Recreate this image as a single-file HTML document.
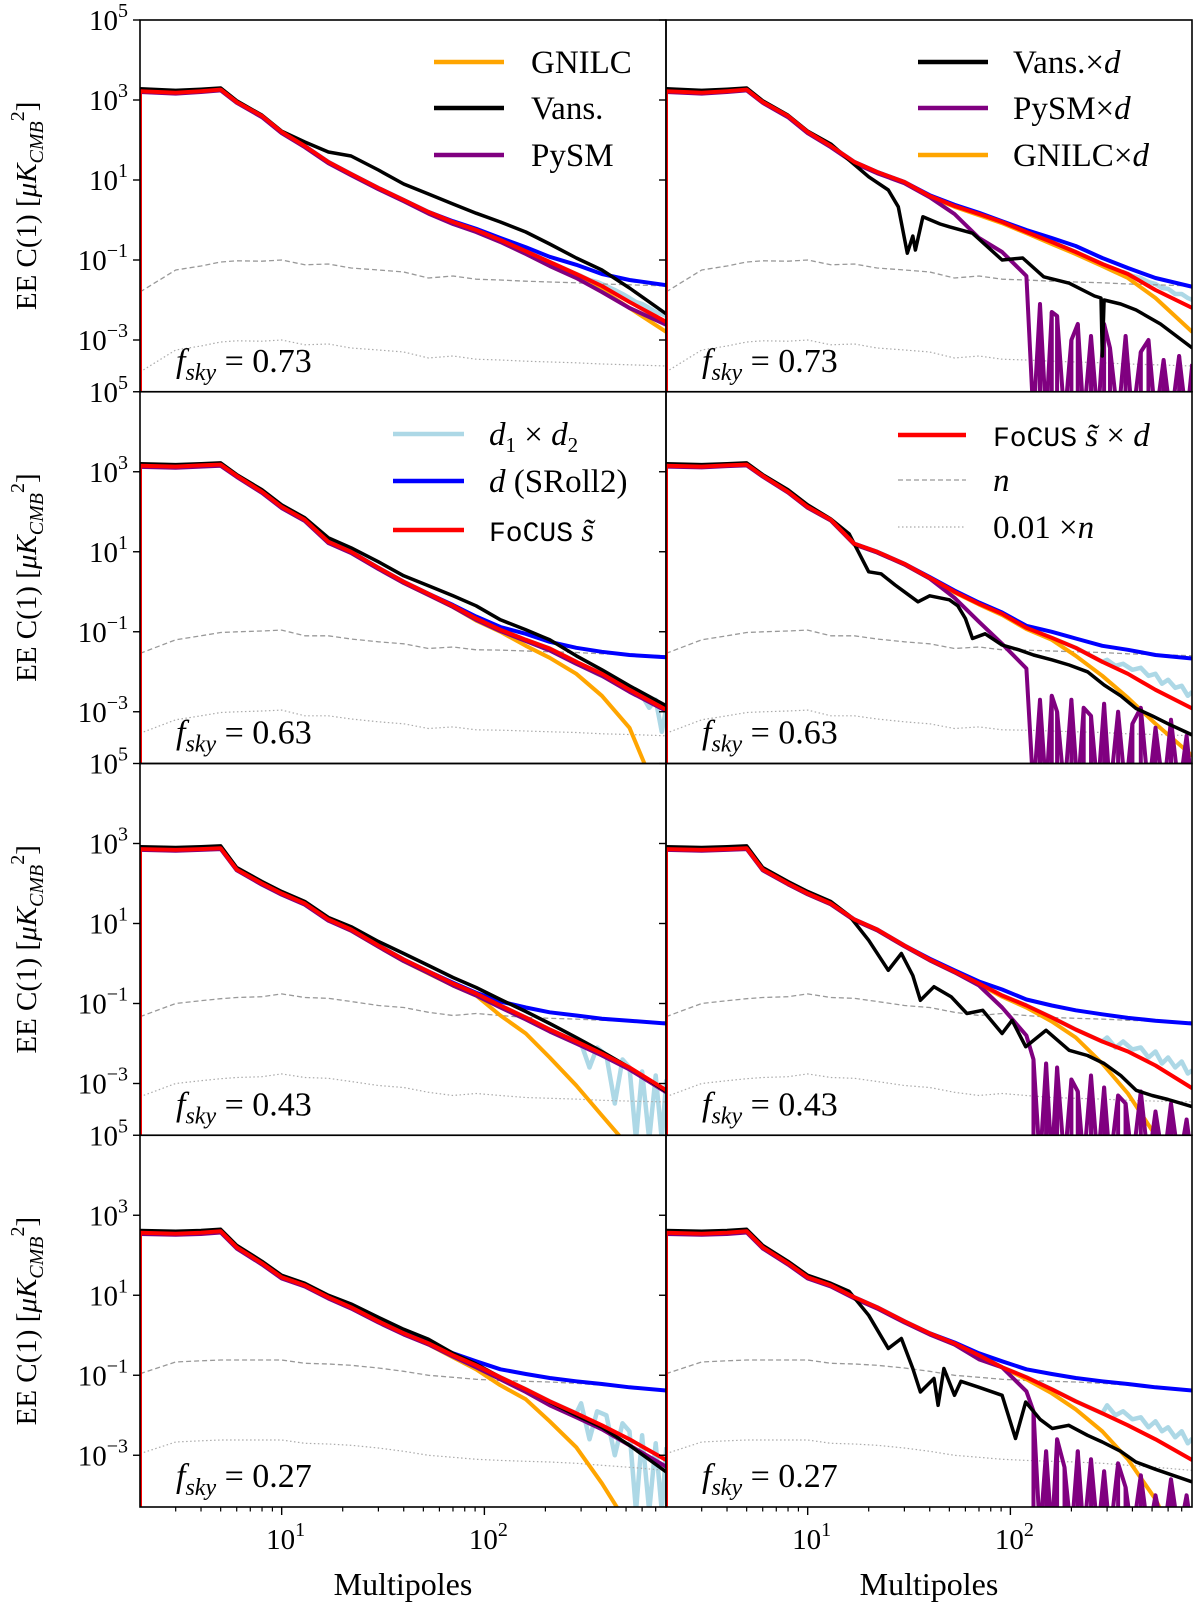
<!DOCTYPE html>
<html><head><meta charset="utf-8">
<style>
html,body{margin:0;padding:0;background:#fff;}
svg{display:block;font-family:"Liberation Serif","DejaVu Serif",serif;}
</style></head>
<body>
<svg id="fig" width="1200" height="1602" viewBox="0 0 1200 1602" xmlns="http://www.w3.org/2000/svg"></svg>
<script>
// ---------- data (log10 of C_l) ----------
const L = [2,3,4,5,6,8,10,13,17,22,30,40,53,70,91,120,160,210,284,380,520,790];
const LB = [300,330,360,400,440,480,520,560,600,650,700,750,790];
const SPL = [130,140,150,160,170,185,200,215,230,250,270,290,310,340,370,400,440,480,520,570,620,680,740,790];
const yTickVals = [5,3,1,-1,-3];
const yTickLabels = ["5","3","1","\u22121","\u22123"];
const xMajor = [10,100];
const xMajorLabels = ["1","2"];
const xMinor = [3,4,5,6,7,8,9,20,30,40,50,60,70,80,90,200,300,400,500,600,700];
const fskyLabels = ["0.73","0.63","0.43","0.27"];

// row 1
const p1l_focus = [3.22,3.18,3.22,3.26,2.95,2.6,2.2,1.85,1.45,1.15,0.8,0.5,0.2,-0.05,-0.25,-0.5,-0.78,-1.05,-1.35,-1.65,-2.05,-2.55];
const p1l_vans = [3.28,3.24,3.27,3.3,2.98,2.62,2.22,1.95,1.7,1.6,1.25,0.9,0.65,0.4,0.17,-0.05,-0.3,-0.6,-0.95,-1.25,-1.7,-2.35];
const p1l_pysm = [3.2,3.16,3.2,3.24,2.93,2.57,2.17,1.82,1.42,1.12,0.77,0.47,0.16,-0.1,-0.3,-0.55,-0.85,-1.15,-1.45,-1.8,-2.2,-2.62];
const p1l_gnilc = [3.21,3.17,3.21,3.25,2.94,2.58,2.18,1.83,1.43,1.13,0.78,0.48,0.18,-0.07,-0.27,-0.52,-0.8,-1.1,-1.4,-1.75,-2.2,-2.8];
const p1l_d = [3.22,3.18,3.22,3.26,2.95,2.6,2.2,1.85,1.45,1.15,0.8,0.5,0.2,-0.03,-0.22,-0.45,-0.68,-0.92,-1.12,-1.35,-1.5,-1.63];
const p1_n = [-1.8,-1.25,-1.15,-1.05,-1.02,-1.03,-1.0,-1.12,-1.1,-1.2,-1.25,-1.3,-1.45,-1.4,-1.48,-1.5,-1.53,-1.55,-1.57,-1.6,-1.62,-1.65];
const p1_n01 = [-3.8,-3.25,-3.15,-3.05,-3.02,-3.03,-3.0,-3.12,-3.1,-3.2,-3.25,-3.3,-3.45,-3.4,-3.48,-3.5,-3.53,-3.55,-3.57,-3.6,-3.62,-3.65];
const p1l_d1d2 = [-1.4,-1.5,-1.55,-1.65,-1.75,-1.85,-1.95,-2.05,-2.1,-2.2,-2.3,-2.35,-2.4];
const p1r_focus = [3.22,3.18,3.22,3.26,2.95,2.6,2.2,1.85,1.45,1.2,0.95,0.6,0.35,0.15,-0.05,-0.3,-0.55,-0.8,-1.1,-1.35,-1.75,-2.2];
const p1r_d = [3.22,3.18,3.22,3.26,2.95,2.6,2.2,1.85,1.45,1.2,0.95,0.62,0.38,0.18,-0.03,-0.25,-0.45,-0.65,-0.95,-1.2,-1.45,-1.67];
const p1r_gnilc = [3.21,3.17,3.21,3.25,2.94,2.58,2.18,1.83,1.43,1.18,0.93,0.58,0.33,0.12,-0.08,-0.33,-0.6,-0.85,-1.15,-1.45,-1.95,-2.8];
const p1r_pysm = [3.2,3.16,3.2,3.24,2.93,2.57,2.17,1.82,1.42,1.17,0.92,0.57,0.15,-0.45,-0.8,-1.4];
const p1r_spk = [-5,-2.1,-5,-2.3,-2.4,-5,-3.0,-2.6,-5,-2.9,-5,-2.6,-3.2,-5,-2.9,-5,-3.3,-3.0,-5,-3.5,-5,-3.4,-5,-3.6];
const p1r_d1d2 = [-1.2,-1.3,-1.3,-1.4,-1.45,-1.55,-1.6,-1.7,-1.72,-1.85,-1.85,-1.95,-2.0];
const p1r_vansL = [2,3,4,5,6,8,10,13,16,20,25,28,31,33,34,37,45,50,65,91,115,146,195,260,280,284,290,350,417,550,790];
const p1r_vans = [3.28,3.24,3.27,3.3,2.98,2.62,2.22,1.9,1.5,1.08,0.75,0.33,-0.83,-0.4,-0.75,0.08,-0.1,-0.17,-0.33,-1.0,-0.95,-1.42,-1.58,-1.9,-1.95,-3.4,-2.0,-2.1,-2.25,-2.6,-3.2];

// row 2
const p2l_focus = [3.15,3.13,3.16,3.18,2.9,2.5,2.12,1.8,1.25,1.0,0.6,0.25,-0.05,-0.35,-0.67,-0.95,-1.2,-1.42,-1.75,-2.05,-2.45,-2.95];
const p2l_vans = [3.2,3.18,3.2,3.22,2.93,2.55,2.17,1.85,1.35,1.1,0.75,0.4,0.15,-0.1,-0.35,-0.7,-0.95,-1.2,-1.6,-1.95,-2.35,-2.85];
const p2l_pysm = [3.12,3.1,3.13,3.15,2.87,2.47,2.09,1.77,1.22,0.97,0.57,0.22,-0.08,-0.38,-0.7,-0.98,-1.23,-1.47,-1.8,-2.1,-2.5,-2.98];
const p2l_gnilc = [3.14,3.12,3.15,3.17,2.89,2.49,2.1,1.78,1.23,0.98,0.58,0.22,-0.08,-0.38,-0.72,-1.0,-1.35,-1.65,-2.05,-2.6,-3.4,-5.6];
const p2l_d = [3.15,3.13,3.16,3.18,2.9,2.5,2.12,1.8,1.25,1.0,0.6,0.25,-0.05,-0.33,-0.62,-0.88,-1.05,-1.25,-1.4,-1.5,-1.58,-1.64];
const p2_n = [-1.54,-1.2,-1.1,-1.02,-1.0,-0.98,-0.96,-1.1,-1.1,-1.18,-1.25,-1.3,-1.42,-1.38,-1.45,-1.46,-1.48,-1.5,-1.52,-1.55,-1.57,-1.6];
const p2_n01 = [-3.54,-3.2,-3.1,-3.02,-3.0,-2.98,-2.96,-3.1,-3.1,-3.18,-3.25,-3.3,-3.42,-3.38,-3.45,-3.46,-3.48,-3.5,-3.52,-3.55,-3.57,-3.6];
const p2l_d1d2 = [-1.85,-1.95,-2.05,-2.15,-2.2,-2.3,-2.4,-2.5,-2.6,-2.9,-2.7,-3.5,-2.9];
const p2r_focus = [3.15,3.13,3.16,3.18,2.9,2.5,2.12,1.8,1.2,1.0,0.7,0.35,0.0,-0.3,-0.55,-0.9,-1.15,-1.4,-1.75,-2.05,-2.45,-2.92];
const p2r_d = [3.15,3.13,3.16,3.18,2.9,2.5,2.12,1.8,1.2,1.0,0.7,0.37,0.03,-0.27,-0.52,-0.85,-1.0,-1.17,-1.35,-1.45,-1.58,-1.67];
const p2r_gnilc = [3.14,3.12,3.15,3.17,2.89,2.49,2.1,1.78,1.18,0.98,0.68,0.33,-0.02,-0.32,-0.58,-0.93,-1.2,-1.6,-2.1,-2.65,-3.3,-4.1];
const p2r_pysm = [3.13,3.11,3.14,3.16,2.88,2.48,2.1,1.78,1.18,0.98,0.68,0.33,-0.15,-0.75,-1.3,-1.92];
const p2r_spk = [-5,-2.7,-5,-2.6,-3.0,-5,-2.7,-5,-2.9,-3.1,-5,-2.8,-5,-3.0,-5,-3.3,-2.9,-5,-3.4,-5,-3.2,-5,-3.6,-5];
const p2r_d1d2 = [-1.7,-1.85,-1.8,-1.95,-1.9,-2.1,-2.05,-2.3,-2.2,-2.4,-2.35,-2.6,-2.5];
const p2r_vansL = [2,3,4,5,6,8,10,13,16,20,23,27,30,35,40,50,55,60,65,75,91,110,130,160,195,240,290,350,417,500,600,790];
const p2r_vans = [3.2,3.18,3.2,3.22,2.93,2.55,2.17,1.82,1.45,0.5,0.45,0.17,0.0,-0.25,-0.1,-0.2,-0.35,-0.67,-1.17,-1.05,-1.33,-1.45,-1.58,-1.7,-1.83,-2.0,-2.33,-2.6,-2.92,-3.1,-3.3,-3.58];

// row 3
const p3l_focus = [2.86,2.84,2.86,2.88,2.35,2.0,1.75,1.5,1.1,0.85,0.45,0.1,-0.2,-0.5,-0.75,-1.05,-1.35,-1.65,-1.95,-2.25,-2.6,-3.17];
const p3l_vans = [2.92,2.9,2.92,2.94,2.4,2.05,1.8,1.55,1.15,0.92,0.55,0.25,-0.05,-0.35,-0.6,-0.9,-1.2,-1.5,-1.85,-2.2,-2.6,-3.2];
const p3l_pysm = [2.84,2.82,2.84,2.86,2.33,1.97,1.72,1.47,1.07,0.82,0.42,0.06,-0.24,-0.55,-0.8,-1.1,-1.4,-1.7,-2.0,-2.3,-2.65,-3.22];
const p3l_gnilc = [2.85,2.83,2.85,2.87,2.34,1.98,1.73,1.48,1.08,0.82,0.42,0.06,-0.25,-0.55,-0.8,-1.3,-1.75,-2.35,-3.05,-3.8,-4.6,-6.0];
const p3l_d = [2.86,2.84,2.86,2.88,2.35,2.0,1.75,1.5,1.1,0.85,0.45,0.1,-0.2,-0.48,-0.73,-0.95,-1.1,-1.22,-1.3,-1.38,-1.43,-1.5];
const p3_n = [-1.33,-1.0,-0.93,-0.88,-0.85,-0.83,-0.76,-0.85,-0.87,-0.95,-1.05,-1.1,-1.22,-1.3,-1.25,-1.3,-1.35,-1.37,-1.39,-1.42,-1.44,-1.46];
const p3_n01 = [-3.33,-3.0,-2.93,-2.88,-2.85,-2.83,-2.76,-2.85,-2.87,-2.95,-3.05,-3.1,-3.22,-3.3,-3.25,-3.3,-3.35,-3.37,-3.39,-3.42,-3.44,-3.46];
const p3l_d1d2 = [-2.0,-2.6,-2.1,-2.3,-3.5,-2.4,-2.6,-4.4,-2.7,-4.4,-2.8,-4.4,-2.9];
const p3r_focus = [2.86,2.84,2.86,2.88,2.35,2.0,1.75,1.5,1.1,0.85,0.45,0.1,-0.2,-0.5,-0.8,-1.05,-1.35,-1.65,-1.95,-2.2,-2.55,-3.12];
const p3r_d = [2.86,2.84,2.86,2.88,2.35,2.0,1.75,1.5,1.1,0.85,0.45,0.12,-0.17,-0.45,-0.65,-0.9,-1.05,-1.17,-1.27,-1.36,-1.43,-1.5];
const p3r_gnilc = [2.85,2.83,2.85,2.87,2.34,1.98,1.73,1.48,1.08,0.83,0.43,0.08,-0.22,-0.52,-0.83,-1.1,-1.45,-1.85,-2.5,-3.25,-4.3,-6.0];
const p3r_pysm = [2.84,2.82,2.84,2.86,2.33,1.98,1.73,1.48,1.08,0.83,0.43,0.08,-0.22,-0.55,-1.1,-1.8];
const p3r_spk = [-2.4,-5,-2.5,-5,-2.6,-5,-2.9,-3.2,-5,-2.8,-5,-3.1,-5,-3.3,-3.5,-5,-3.2,-5,-3.7,-5,-3.5,-5,-3.9,-5];
const p3r_d1d2 = [-1.85,-2.1,-1.95,-2.15,-2.1,-2.35,-2.2,-2.5,-2.35,-2.6,-2.45,-2.75,-2.67];
const p3r_vansL = [2,3,4,5,6,8,10,13,16,20,25,29,33,36,42,51,61,73,91,102,119,150,195,240,290,350,417,500,600,790];
const p3r_vans = [2.92,2.9,2.92,2.94,2.4,2.05,1.8,1.55,1.2,0.58,-0.17,0.25,-0.3,-0.92,-0.58,-0.83,-1.25,-1.17,-1.75,-1.42,-2.08,-1.67,-2.17,-2.3,-2.5,-2.8,-3.17,-3.3,-3.4,-3.58];

// row 4
const p4l_focus = [2.56,2.54,2.56,2.6,2.2,1.8,1.45,1.25,0.95,0.7,0.35,0.05,-0.2,-0.5,-0.75,-1.05,-1.35,-1.65,-1.95,-2.25,-2.6,-3.12];
const p4l_vans = [2.62,2.6,2.62,2.65,2.25,1.85,1.5,1.3,1.0,0.78,0.45,0.15,-0.1,-0.45,-0.72,-1.05,-1.35,-1.67,-2.0,-2.3,-2.75,-3.42];
const p4l_pysm = [2.53,2.51,2.53,2.57,2.17,1.77,1.42,1.22,0.92,0.67,0.32,0.02,-0.23,-0.53,-0.8,-1.1,-1.42,-1.75,-2.05,-2.35,-2.75,-3.29];
const p4l_gnilc = [2.55,2.53,2.55,2.59,2.18,1.78,1.43,1.23,0.93,0.68,0.33,0.03,-0.23,-0.55,-0.85,-1.25,-1.6,-2.15,-2.8,-3.7,-4.8,-6.0];
const p4l_d = [2.56,2.54,2.56,2.6,2.2,1.8,1.45,1.25,0.95,0.7,0.35,0.05,-0.18,-0.45,-0.65,-0.85,-0.97,-1.07,-1.15,-1.22,-1.3,-1.38];
const p4_n = [-0.96,-0.67,-0.64,-0.62,-0.62,-0.62,-0.62,-0.7,-0.72,-0.75,-0.82,-0.9,-1.0,-1.05,-1.1,-1.13,-1.15,-1.17,-1.2,-1.25,-1.3,-1.38];
const p4_n01 = [-2.96,-2.67,-2.64,-2.62,-2.62,-2.62,-2.62,-2.7,-2.72,-2.75,-2.82,-2.9,-3.0,-3.05,-3.1,-3.13,-3.15,-3.17,-3.2,-3.25,-3.3,-3.38];
const p4l_d1d2 = [-1.7,-2.6,-1.9,-2.0,-3.0,-2.2,-2.4,-4.4,-2.5,-4.4,-2.7,-4.4,-2.8];
const p4r_focus = [2.56,2.54,2.56,2.6,2.2,1.8,1.45,1.25,0.95,0.7,0.35,0.05,-0.2,-0.5,-0.8,-1.05,-1.35,-1.65,-1.95,-2.25,-2.6,-3.12];
const p4r_d = [2.56,2.54,2.56,2.6,2.2,1.8,1.45,1.25,0.95,0.7,0.35,0.05,-0.18,-0.45,-0.65,-0.85,-0.97,-1.07,-1.15,-1.22,-1.3,-1.38];
const p4r_gnilc = [2.55,2.53,2.55,2.59,2.18,1.78,1.43,1.23,0.93,0.68,0.33,0.03,-0.23,-0.53,-0.8,-1.1,-1.45,-1.85,-2.4,-3.1,-4.1,-6.0];
const p4r_pysm = [2.53,2.51,2.53,2.57,2.17,1.77,1.42,1.22,0.92,0.67,0.32,0.02,-0.23,-0.6,-0.8,-1.4];
const p4r_spk = [-1.9,-5,-2.9,-5,-2.6,-3.3,-5,-2.9,-5,-3.1,-5,-3.4,-5,-3.2,-3.8,-5,-3.5,-5,-4.0,-5,-3.6,-5,-4.0,-5];
const p4r_d1d2 = [-1.75,-2.0,-1.9,-2.1,-2.05,-2.3,-2.15,-2.4,-2.3,-2.55,-2.4,-2.7,-2.58];
const p4r_vansL = [2,3,4,5,6,8,10,13,16,20,25,29,33,36,42,44,47,53,57,70,91,106,119,140,161,194,240,284,350,416,520,790];
const p4r_vans = [2.62,2.6,2.62,2.65,2.25,1.85,1.5,1.3,1.1,0.5,-0.33,-0.08,-0.83,-1.42,-1.08,-1.75,-0.83,-1.5,-1.15,-1.3,-1.5,-2.58,-1.67,-2.1,-2.33,-2.25,-2.5,-2.67,-2.9,-3.17,-3.35,-3.67];

const panels = [
 {row:0,col:0,focus:p1l_focus,vans:p1l_vans,vansL:L,pysm:p1l_pysm,gnilc:p1l_gnilc,d:p1l_d,n:p1_n,n01:p1_n01,d1d2:p1l_d1d2},
 {row:0,col:1,focus:p1r_focus,vans:p1r_vans,vansL:p1r_vansL,pysm:p1r_pysm,spk:p1r_spk,gnilc:p1r_gnilc,d:p1r_d,n:p1_n,n01:p1_n01,d1d2:p1r_d1d2},
 {row:1,col:0,focus:p2l_focus,vans:p2l_vans,vansL:L,pysm:p2l_pysm,gnilc:p2l_gnilc,d:p2l_d,n:p2_n,n01:p2_n01,d1d2:p2l_d1d2},
 {row:1,col:1,focus:p2r_focus,vans:p2r_vans,vansL:p2r_vansL,pysm:p2r_pysm,spk:p2r_spk,gnilc:p2r_gnilc,d:p2r_d,n:p2_n,n01:p2_n01,d1d2:p2r_d1d2},
 {row:2,col:0,focus:p3l_focus,vans:p3l_vans,vansL:L,pysm:p3l_pysm,gnilc:p3l_gnilc,d:p3l_d,n:p3_n,n01:p3_n01,d1d2:p3l_d1d2},
 {row:2,col:1,focus:p3r_focus,vans:p3r_vans,vansL:p3r_vansL,pysm:p3r_pysm,spk:p3r_spk,gnilc:p3r_gnilc,d:p3r_d,n:p3_n,n01:p3_n01,d1d2:p3r_d1d2},
 {row:3,col:0,focus:p4l_focus,vans:p4l_vans,vansL:L,pysm:p4l_pysm,gnilc:p4l_gnilc,d:p4l_d,n:p4_n,n01:p4_n01,d1d2:p4l_d1d2},
 {row:3,col:1,focus:p4r_focus,vans:p4r_vans,vansL:p4r_vansL,pysm:p4r_pysm,spk:p4r_spk,gnilc:p4r_gnilc,d:p4r_d,n:p4_n,n01:p4_n01,d1d2:p4r_d1d2}
];

// ---------- geometry ----------
const NS = "http://www.w3.org/2000/svg";
const svg = document.getElementById('fig');
const PW = 526, PH = 371.75, X0 = [140, 666], Y0 = 20, DEC_X = 202.7, DEC_Y = 40;
function xs(col, l){ return X0[col] + (Math.log10(l) - Math.log10(2)) * DEC_X; }
function ys(row, v){ return Y0 + row*PH + (5 - v) * DEC_Y; }
function mk(tag, attrs, parent){
  const e = document.createElementNS(NS, tag);
  for (const k in attrs) e.setAttribute(k, attrs[k]);
  (parent||svg).appendChild(e); return e;
}
function line(p, g, ls, vs, color, w, name, dash){
  let pts = [];
  for (let i=0;i<vs.length;i++) pts.push(xs(p.col, ls[i]).toFixed(1)+','+ys(p.row, vs[i]).toFixed(1));
  const el = mk('polyline', {points: pts.join(' '), fill:'none', stroke:color, 'stroke-width':w, 'stroke-linejoin':'round'}, g);
  if (dash) el.setAttribute('stroke-dasharray', dash);
  
  
  return el;
}

const defs = mk('defs', {});
panels.forEach((p, i) => {
  const px = X0[p.col], py = Y0 + p.row*PH;
  const cp = mk('clipPath', {id:'clip'+i}, defs);
  mk('rect', {x:px, y:py, width:PW, height:PH}, cp);
  const g = mk('g', {'clip-path':'url(#clip'+i+')'});
  
  

  const lowL = L.filter(l => l < 300);
  const dl = lowL.concat(LB);
  const dv = p.focus.slice(0, lowL.length).concat(p.d1d2);
  line(p, g, dl, dv, '#add8e6', 4.5, 'series-d1xd2');
  line(p, g, L, p.n, '#999', 1.3, 'series-noise', '5,3');
  line(p, g, L, p.n01, '#aaa', 1.2, 'series-noise-001', '1.5,2.5');
  line(p, g, L, p.gnilc, '#ffa500', 4, 'series-gnilc');
  if (p.spk) {
    const pl = L.slice(0, p.pysm.length).concat(SPL);
    const pv = p.pysm.concat(p.spk);
    line(p, g, pl, pv, '#800080', 4, 'series-pysm-x-d');
    SPL.forEach((l, k) => {
      const x = xs(p.col, l);
      const b = mk('line', {x1:x, x2:x, y1:ys(p.row, p.spk[k]), y2:py+PH, stroke:'#800080', 'stroke-width':4}, g);
      
      
    });
  } else {
    line(p, g, L, p.pysm, '#800080', 4, 'series-pysm');
  }
  line(p, g, L, p.d, '#0000ff', 4, 'series-d-sroll2');
  line(p, g, p.vansL, p.vans, '#000', 3.5, p.spk ? 'series-vans-x-d' : 'series-vans');
  const fl = [2].concat(L), fv = [-6].concat(p.focus);
  line(p, g, fl, fv, '#ff0000', 4, p.spk ? 'series-focus-x-d' : 'series-focus');

  const fr = mk('rect', {x:px, y:py, width:PW, height:PH, fill:'none', stroke:'#000', 'stroke-width':1.6});
  
  

  yTickVals.forEach((v, k) => {
    const y = ys(p.row, v);
    const t = mk('line', {x1:px-7, x2:px, y1:y, y2:y, stroke:'#000', 'stroke-width':1.4});
    
    
    if (p.col === 0) {
      const tx = mk('text', {x:128, y:y+10, 'text-anchor':'end', 'font-size':29, fill:'#000'});
      
      
      tx.appendChild(document.createTextNode('10'));
      const sp = mk('tspan', {dy:-13, 'font-size':20}, tx);
      sp.textContent = yTickLabels[k];
    }
  });
  if (p.row === 3) {
    const by = py + PH;
    xMinor.forEach(l => {
      const t = mk('line', {x1:xs(p.col,l), x2:xs(p.col,l), y1:by, y2:by+4.5, stroke:'#000', 'stroke-width':1.2});
      
      
    });
    xMajor.forEach((l, k) => {
      const x = xs(p.col, l);
      const t = mk('line', {x1:x, x2:x, y1:by, y2:by+8, stroke:'#000', 'stroke-width':1.4});
      
      
      const tx = mk('text', {x:x+4, y:by+42, 'text-anchor':'middle', 'font-size':29, fill:'#000'});
      
      
      tx.appendChild(document.createTextNode('10'));
      const sp = mk('tspan', {dy:-13, 'font-size':20}, tx);
      sp.textContent = xMajorLabels[k];
    });
    const xt = mk('text', {x:px+PW/2, y:by+88, 'text-anchor':'middle', 'font-size':32, fill:'#000'});
    
    
    xt.textContent = 'Multipoles';
  }
  const fs = mk('text', {x:px+36, y:py+PH-20, 'font-size':34, fill:'#000'});
  
  
  const f1 = mk('tspan', {'font-style':'italic'}, fs); f1.textContent = 'f';
  const f2 = mk('tspan', {'font-style':'italic', 'font-size':24, dy:8}, fs); f2.textContent = 'sky';
  const f3 = mk('tspan', {dy:-8}, fs); f3.textContent = ' = ' + fskyLabels[p.row];

  if (p.col === 0) {
    const cy = py + PH/2;
    const yt = mk('text', {x:0, y:0, transform:'translate(36,'+cy+') rotate(-90)', 'text-anchor':'middle', 'font-size':29, fill:'#000'});
    
    
    yt.appendChild(document.createTextNode('EE C(1) ['));
    const a = mk('tspan', {'font-style':'italic'}, yt); a.textContent = '\u03bcK';
    const b = mk('tspan', {'font-style':'italic', 'font-size':20, dy:7}, yt); b.textContent = 'CMB';
    const c = mk('tspan', {'font-size':20, dy:-19}, yt); c.textContent = '2';
    const d = mk('tspan', {dy:12}, yt); d.textContent = ']';
  }
});

// ---------- legends ----------
const legends = [
 {x1:434, x2:504, tx:531, rows:[[62,'#ffa500',null,[['GNILC','']]],[108,'#000',null,[['Vans.','']]],[155,'#800080',null,[['PySM','']]]]},
 {x1:918, x2:988, tx:1013, rows:[[62,'#000',null,[['Vans.\u00d7',''],['d','i']]],[108,'#800080',null,[['PySM\u00d7',''],['d','i']]],[155,'#ffa500',null,[['GNILC\u00d7',''],['d','i']]]]},
 {x1:393, x2:464, tx:489, rows:[[434,'#add8e6',null,[['d','i'],['1','s'],[' \u00d7 ',''],['d','i'],['2','s']]],[481,'#0000ff',null,[['d','i'],[' (SRoll2)','']]],[530,'#ff0000',null,[['FoCUS','m'],[' ',''],['s\u0303','i']]]]},
 {x1:898, x2:966, tx:993, rows:[[435,'#ff0000',null,[['FoCUS','m'],[' ',''],['s\u0303','i'],[' \u00d7 ',''],['d','i']]],[480,'#999','5,3',[['n','i']]],[527,'#aaa','1.5,2.5',[['0.01 \u00d7','' ],['n','i']]]]}
];
legends.forEach(lg => {
  lg.rows.forEach(r => {
    const ln = mk('line', {x1:lg.x1, x2:lg.x2, y1:r[0], y2:r[0], stroke:r[1], 'stroke-width': r[2] ? 1.3 : 4.5});
    if (r[2]) ln.setAttribute('stroke-dasharray', r[2]);
    
    
    const t = mk('text', {x:lg.tx, y:r[0]+11, 'font-size':33, fill:'#000'});
    
    
    let sub = false;
    r[3].forEach(seg => {
      const s = mk('tspan', {}, t);
      if (seg[1] === 'i') s.setAttribute('font-style', 'italic');
      if (seg[1] === 'm') { s.setAttribute('font-family', '"Liberation Mono", monospace'); s.setAttribute('font-size', 28); }
      if (seg[1] === 's') { s.setAttribute('font-size', 21); s.setAttribute('dy', 7); sub = true; }
      else if (sub) { s.setAttribute('dy', -7); sub = false; }
      s.textContent = seg[0];
    });
  });
});
</script>
</body></html>
